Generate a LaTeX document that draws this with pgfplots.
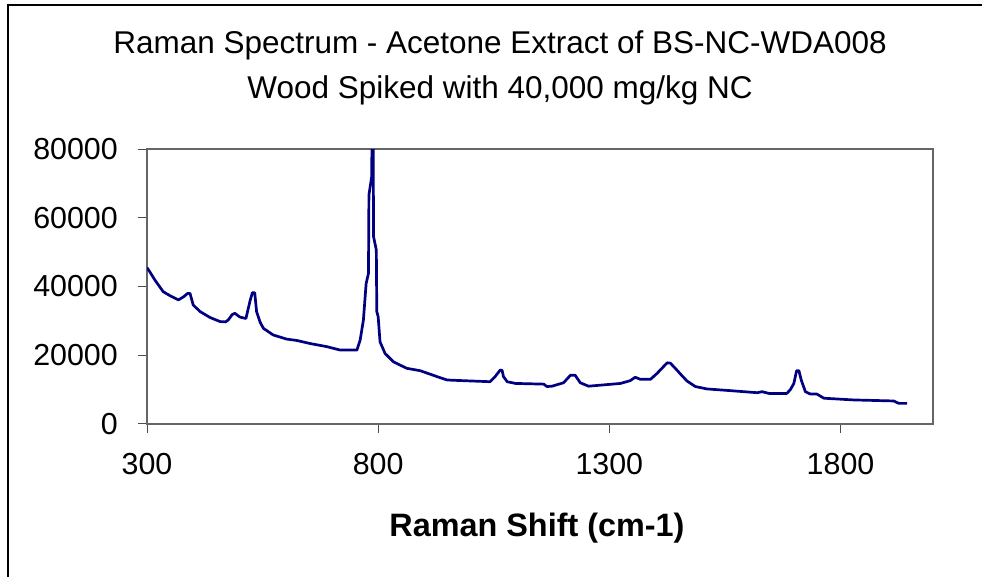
\documentclass[border=0pt]{standalone}
\usepackage{pgfplots}
\pgfplotsset{compat=1.18}
\usepackage{fontspec}
\setmainfont{Liberation Sans}
\definecolor{specnavy}{RGB}{0,0,128}
\begin{document}
\begin{tikzpicture}
\useasboundingbox (0,0) rectangle (982bp,577bp);
\draw[black, line width=1.2bp] (8bp,-2bp) -- (8bp,572bp) -- (984bp,572bp);
\node[anchor=base, font=\fontsize{31.6}{31.6}\selectfont] at (500bp,523bp) {Raman Spectrum - Acetone Extract of BS-NC-WDA008};
\node[anchor=base, font=\fontsize{31.6}{31.6}\selectfont] at (500bp,478bp) {Wood Spiked with 40,000 mg/kg NC};
\begin{axis}[
  at={(147bp,153bp)}, anchor=south west,
  width=786bp, height=275bp, scale only axis,
  xmin=300, xmax=2000, ymin=0, ymax=80000,
  xtick={300,800,1300,1800},
  ytick={0,20000,40000,60000,80000},
  scaled y ticks=false,
  /pgf/number format/assume math mode=true,
  /pgf/number format/set thousands separator={},
  xtick pos=left, ytick pos=left,
  tick align=outside, major tick length=9bp,
  tick style={black!70, line width=1bp},
  axis line style={black!60, line width=1.2bp},
  ticklabel style={font=\fontsize{30.5}{30.5}\selectfont, inner sep=0pt},
  xticklabel style={anchor=north, yshift=-20bp},
  yticklabel style={anchor=east, xshift=-20bp},
  xlabel={\bfseries Raman Shift (cm-1)},
  xlabel style={font=\fontsize{32.5}{32.5}\selectfont, anchor=base, at={(axis description cs:0.5,0)}, yshift=-112bp, xshift=-3bp},
  clip=true,
]
\addplot[specnavy, line width=2.7bp, line join=round] coordinates {
(300,45500) (305,44500) (317,41900) (335,38500) (350,37300) (368,36100)
(379,37000) (388,38000) (393,38000) (400,34600) (415,32700) (436,31000)
(458,29800) (470,29700) (476,30300) (484,31800) (490,32200) (501,31100)
(514,30700) (523,35900) (528,38200) (533,38200) (537,32700) (545,29500)
(552,27800) (573,25900) (602,24700) (624,24300) (653,23400) (689,22500)
(718,21500) (754,21500) (761,24400) (768,30200) (774,40900) (779,43800)
(780,66600) (786,72000) (787,90000) (789,90000) (790,54500) (796,50600)
(797,32700) (800,31200) (804,23900) (815,20500) (833,18100) (848,17100)
(862,16200) (891,15500) (927,13800) (949,12800) (985,12600) (1042,12300)
(1053,13800) (1064,15700) (1068,15600) (1071,13800) (1079,12300) (1097,11800)
(1158,11600) (1165,10900) (1176,11000) (1201,12000) (1216,14200) (1226,14200)
(1237,12000) (1255,11000) (1281,11300) (1324,11800) (1345,12600) (1356,13600)
(1367,13000) (1389,13000) (1403,14700) (1425,17800) (1432,17700) (1446,15700)
(1454,14500) (1468,12500) (1486,10900) (1511,10200) (1562,9700) (1620,9100)
(1630,9400) (1645,8900) (1684,8900) (1692,10100) (1699,11800) (1705,15500)
(1710,15500) (1715,12800) (1724,9400) (1735,8700) (1749,8700) (1764,7500)
(1828,7000) (1915,6700) (1926,6000) (1944,6000)
};
\end{axis}
\end{tikzpicture}
\end{document}
